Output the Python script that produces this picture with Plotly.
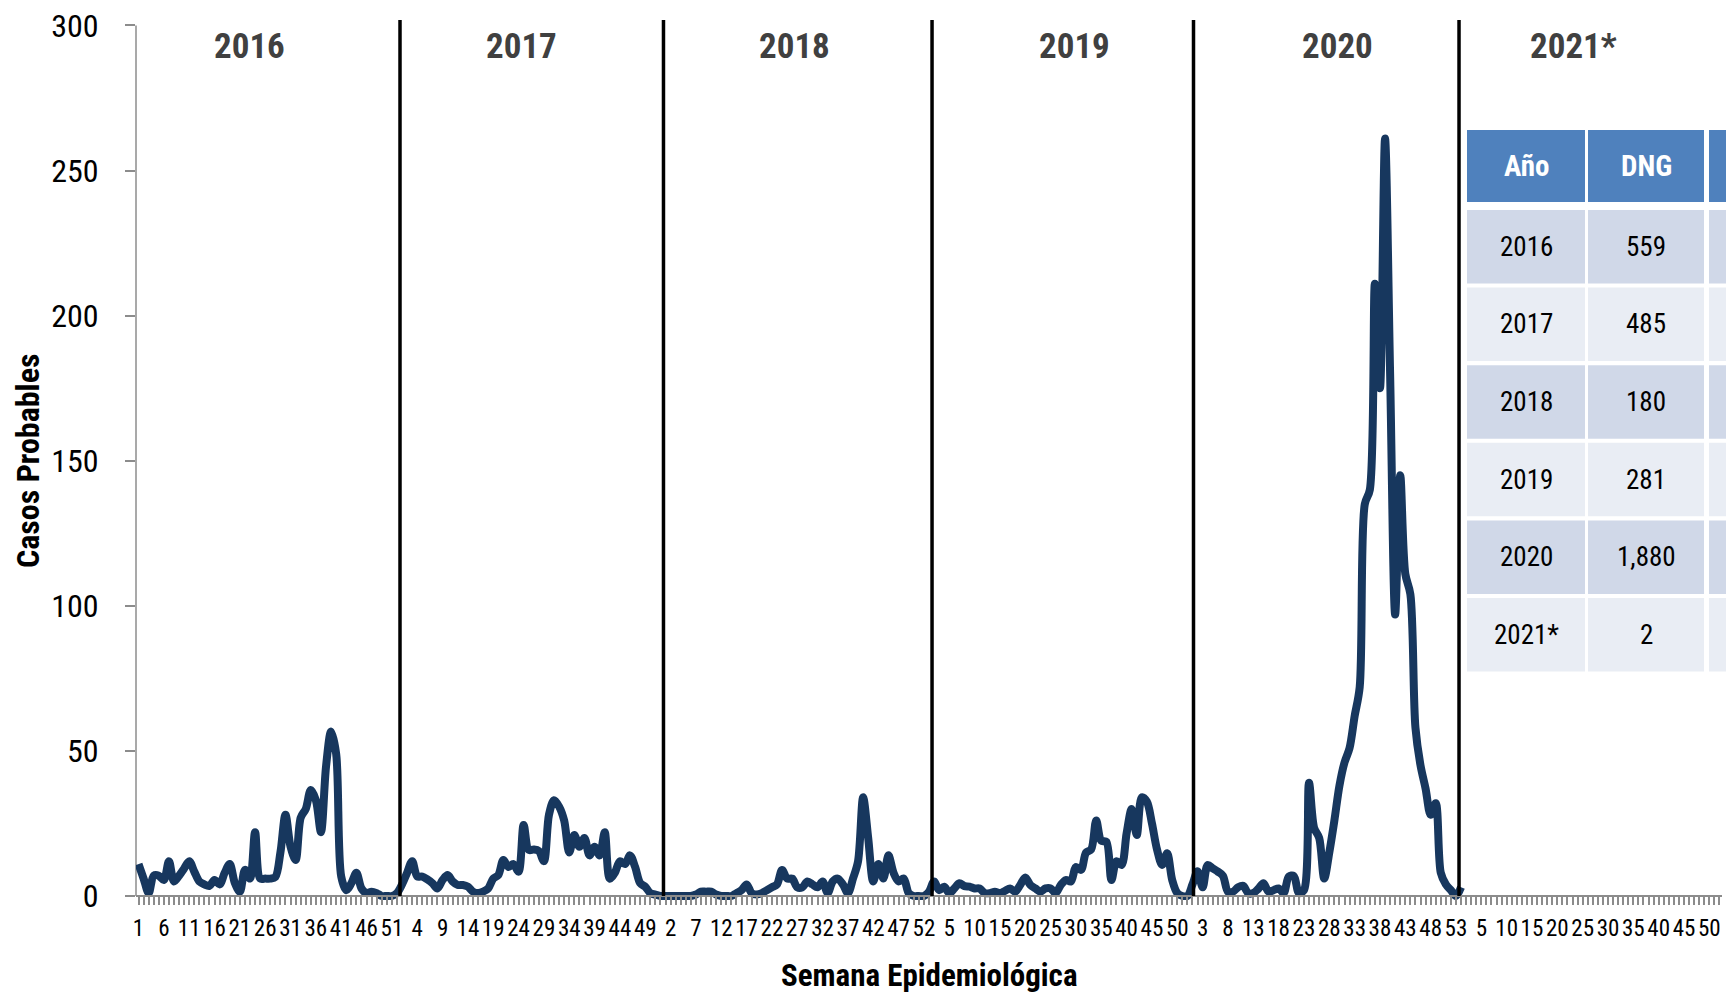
import plotly.graph_objects as go

# ---------------- data ----------------
weeks_2016 = [11, 6, 1, 7, 7, 5.5, 12, 5, 7, 9.5, 12, 8.4, 5, 4, 3.5, 5.5, 4, 8, 11, 4.5,
              1.5, 9, 6, 22, 6, 6, 6, 6.5, 15, 28, 17, 12.4, 27, 30, 36.5, 33, 22, 44.6, 56.7, 49,
              6.7, 2, 4.4, 8, 2.6, 1, 1.5, 1, 0, 0, 0, 1]
weeks_2017 = [4, 8, 12, 6.7, 6.7, 5.7, 4.4, 2.6, 5.5, 7.2, 5, 3.8, 3.8, 3.2, 1.5, 1, 1.5, 2.6, 6, 7.2,
              12.4, 10, 11, 8.4, 24.5, 15.9, 16, 15.5, 12, 28, 33, 30.8, 26, 15, 21, 17, 20, 14, 17, 14,
              22, 6, 8, 12, 11, 14, 10, 4.4, 3.2, 1, 0.5, 0]
weeks_2018 = [0, 0, 0, 0, 0, 0, 0.5, 1.5, 1.5, 1.5, 0.5, 0, 0, 0, 1, 2, 4, 1, 0.5, 1,
              2, 3, 4, 9, 6, 6, 3, 3, 5, 4, 3, 5, 1, 5, 6, 4, 1, 6, 12, 34,
              20, 5, 11, 6, 14, 8, 5, 6, 1, 0, 0, 0]
weeks_2019 = [1.5, 5, 2, 3.2, 1, 2.6, 4.4, 3.4, 3.2, 2.6, 2.6, 1, 1, 1.5, 1, 1.8, 2.6, 1.5, 3.8, 6.4,
              3.8, 2.6, 1.5, 2.6, 2.6, 1, 3.8, 5.5, 5, 10, 9, 15, 16, 26, 19, 18.7, 5.5, 12, 10.7, 21.6,
              30, 21, 34, 32.5, 25, 16, 10.7, 14.7, 5.5, 1, 0, 0]
weeks_2020 = [4, 8.5, 3, 10.7, 9.5, 8.4, 7, 1.5, 1.5, 3, 3.5, 1, 1, 2.5, 4.4, 1.5, 2, 2.6, 1, 6.7,
              6.9, 1, 2, 39, 23.5, 20, 6, 15, 26, 38, 46, 51, 62, 72, 135, 140, 211, 175, 261, 180,
              97, 145, 111, 104, 58, 45, 37, 28, 32, 8, 4, 2, 0]
weeks_2021 = [3]

year_names = ["2016", "2017", "2018", "2019", "2020", "2021*"]
year_week_counts = [52, 52, 52, 52, 53, 52]

table_header = ["Año", "DNG", ""]
table_years = ["2016", "2017", "2018", "2019", "2020", "2021*"]
table_dng = ["559", "485", "180", "281", "1,880", "2"]

# ---------------- layout constants ----------------
# the page body has an 8px margin, so the figure starts at (8, 8) in the screenshot
OFF = 8
SCREEN_W, SCREEN_H = 1734, 998
W, H = SCREEN_W - OFF, SCREEN_H - OFF
PLOT_L, PLOT_R, PLOT_T, PLOT_B = 136, 1722, 24, 900   # screenshot pixels
ZERO_PX = 896
Y_MAX = 300.5
Y_MIN = -(PLOT_B - ZERO_PX) * Y_MAX / (ZERO_PX - PLOT_T)
L = PLOT_L - OFF
T = PLOT_T - OFF
R = W - (PLOT_R - OFF)
B = H - (PLOT_B - OFF)
FONT = "Roboto Condensed, Liberation Sans, Arial, sans-serif"
LINE_COLOR = "#17375E"
AXIS_GRAY = "#8C8C8C"

# hand-placed year separator lines and year captions (category units)
separator_x = [51.6, 103.6, 156.6, 208.2, 260.6]
year_label_x = [21.8, 75.5, 129.4, 184.8, 236.7, 283.1]


def px_x(x):
    return (x - PLOT_L) / (PLOT_R - PLOT_L)


def px_y(y):
    return (PLOT_B - y) / (PLOT_B - PLOT_T)


series = [weeks_2016, weeks_2017, weeks_2018, weeks_2019, weeks_2020, weeks_2021]

xs, ys = [], []
tickvals, ticktext = [], []
start = 0
for n, vals in zip(year_week_counts, series):
    for w in range(1, n + 1):
        i = start + w - 1
        tickvals.append(i)
        ticktext.append(str(w) if i % 5 == 0 else "")
    for w, v in enumerate(vals):
        xs.append(start + w)
        ys.append(v)
    start += n
n_total = start

fig = go.Figure()
fig.add_trace(go.Scatter(
    x=xs, y=ys, mode="lines",
    line=dict(color=LINE_COLOR, width=8, shape="spline", smoothing=0.9),
    hoverinfo="skip", showlegend=False,
))

shapes = []
# y axis line
shapes.append(dict(type="line", xref="paper", yref="y", x0=0, x1=0, y0=0, y1=300,
                   line=dict(color=AXIS_GRAY, width=1.5), layer="below"))
# year separators
for s in separator_x:
    shapes.append(dict(type="line", xref="x", yref="paper", x0=s, x1=s,
                       y0=px_y(ZERO_PX), y1=px_y(20), line=dict(color="black", width=3.5)))

# table
col_x = [(1467, 1585), (1588, 1704), (1709, 1830)]
header_y = (130, 202)
row_top0, row_pitch, row_h = 210, 77.6, 73.5
annotations = []
for c, (x0, x1) in enumerate(col_x):
    shapes.append(dict(type="rect", xref="paper", yref="paper",
                       x0=px_x(x0), x1=px_x(x1), y0=px_y(header_y[1]), y1=px_y(header_y[0]),
                       fillcolor="#4F81BD", line=dict(width=0)))
    if table_header[c]:
        annotations.append(dict(xref="paper", yref="paper", x=px_x((x0 + x1) / 2),
                                y=px_y(sum(header_y) / 2), text=f"<b>{table_header[c]}</b>",
                                showarrow=False, xanchor="center", yanchor="middle",
                                font=dict(family=FONT, size=29, color="white")))
for j in range(len(table_years)):
    y0 = row_top0 + j * row_pitch
    y1 = y0 + row_h
    fill = "#D0D8E8" if j % 2 == 0 else "#E9EDF4"
    cells = [table_years[j], table_dng[j], ""]
    for c, (x0, x1) in enumerate(col_x):
        shapes.append(dict(type="rect", xref="paper", yref="paper",
                           x0=px_x(x0), x1=px_x(x1), y0=px_y(y1), y1=px_y(y0),
                           fillcolor=fill, line=dict(width=0)))
        if cells[c]:
            annotations.append(dict(xref="paper", yref="paper", x=px_x((x0 + x1) / 2),
                                    y=px_y((y0 + y1) / 2), text=cells[c], showarrow=False,
                                    xanchor="center", yanchor="middle",
                                    font=dict(family=FONT, size=27, color="black")))

# year labels
for name, xl in zip(year_names, year_label_x):
    annotations.append(dict(xref="x", yref="paper", x=xl, y=px_y(46), text=f"<b>{name}</b>",
                            showarrow=False, xanchor="center", yanchor="middle",
                            font=dict(family=FONT, size=35, color="#404040")))

# axis titles
annotations.append(dict(xref="paper", yref="paper", x=px_x(929), y=px_y(975),
                        text="<b>Semana Epidemiológica</b>", showarrow=False,
                        xanchor="center", yanchor="middle",
                        font=dict(family=FONT, size=31, color="black")))
annotations.append(dict(xref="paper", yref="paper", x=px_x(28), y=px_y(460),
                        text="<b>Casos Probables</b>", showarrow=False, textangle=-90,
                        xanchor="center", yanchor="middle",
                        font=dict(family=FONT, size=32, color="black")))

fig.update_layout(
    width=W, height=H,
    margin=dict(l=L, r=R, t=T, b=B, pad=0, autoexpand=False),
    paper_bgcolor="white", plot_bgcolor="white",
    shapes=shapes, annotations=annotations,
    showlegend=False,
    xaxis=dict(
        range=[-0.5, n_total - 0.5],
        tickmode="array", tickvals=tickvals, ticktext=ticktext,
        ticks="outside", ticklen=8, tickwidth=1.5, tickcolor=AXIS_GRAY,
        showline=True, linecolor=AXIS_GRAY, linewidth=2,
        showgrid=False, zeroline=False, automargin=False,
        anchor="free", position=(0 - Y_MIN) / (Y_MAX - Y_MIN),
        tickfont=dict(family=FONT, size=23, color="black"),
        ticklabelstandoff=3, tickangle=0, ticklabeloverflow="allow",
    ),
    yaxis=dict(
        range=[Y_MIN, Y_MAX],
        tickmode="array", tickvals=[0, 50, 100, 150, 200, 250, 300],
        ticks="outside", ticklen=10, tickwidth=1.5, tickcolor=AXIS_GRAY,
        showline=False, showgrid=False, zeroline=False, automargin=False,
        tickfont=dict(family=FONT, size=32, color="black"),
        ticklabelstandoff=20, ticklabeloverflow="allow",
    ),
)

fig.write_html("out.html")
